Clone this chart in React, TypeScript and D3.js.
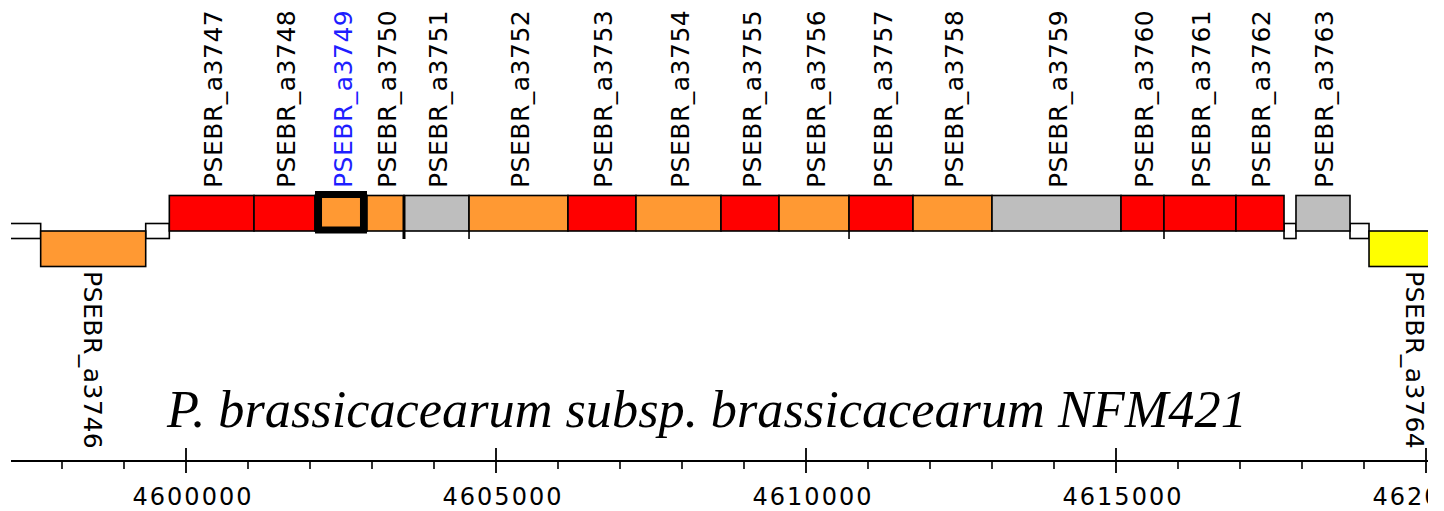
import * as d3 from 'd3';

// genes on the upper (+) strand
const upperNames = ['PSEBR_a3747', 'PSEBR_a3748', 'PSEBR_a3749', 'PSEBR_a3750', 'PSEBR_a3751', 'PSEBR_a3752', 'PSEBR_a3753', 'PSEBR_a3754', 'PSEBR_a3755', 'PSEBR_a3756', 'PSEBR_a3757', 'PSEBR_a3758', 'PSEBR_a3759', 'PSEBR_a3760', 'PSEBR_a3761', 'PSEBR_a3762', 'PSEBR_a3763'];
const upperStarts = [4599731, 4601097, 4602081, 4602919, 4603516, 4604565, 4606161, 4607258, 4608629, 4609565, 4610694, 4611726, 4613000, 4615081, 4615774, 4616935, 4617903];
const upperEnds = [4601097, 4602081, 4602919, 4603516, 4604565, 4606161, 4607258, 4608629, 4609565, 4610694, 4611726, 4613000, 4615081, 4615774, 4616935, 4617710, 4618774];
const upperKinds = ['red', 'red', 'orange', 'orange', 'grey', 'orange', 'red', 'orange', 'red', 'orange', 'red', 'orange', 'grey', 'red', 'red', 'red', 'grey'];

// genes on the lower (-) strand
const lowerNames = ['PSEBR_a3746', 'PSEBR_a3764'];
const lowerStarts = [4597656, 4619081];
const lowerEnds = [4599350, 4620565];
const lowerKinds = ['orange', 'yellow'];

// intergenic regions
const gapStarts = [4596800, 4599350, 4617710, 4618774];
const gapEnds = [4597656, 4599731, 4617903, 4619081];

// small overlap marks under the track
const markPos = [4604565, 4610694, 4615774];
const thickMark = 4603516;

const selectedGene = 'PSEBR_a3749';
const title = 'P. brassicacearum subsp. brassicacearum NFM421';
const majorTicks = [4600000, 4605000, 4610000, 4615000, 4620000];

const colors: Record<string, string> = {
  red: '#ff0000',
  orange: '#ff9933',
  grey: '#bebebe',
  yellow: '#ffff00',
};

export default function App() {
  const width = 1444;
  const height = 511;
  const x = d3.scaleLinear().domain([4600000, 4620000]).range([186, 1426]);
  const minorTicks = d3.range(4597000, 4621000, 1000).filter(t => t % 5000 !== 0);

  const upTop = 195.5, mid = 231, lowBot = 266.5;
  const gapTop = 223.5, gapBot = 238.5;
  const axisY = 461;
  const labelFont = '"DejaVu Sans", sans-serif';

  const upper = upperNames.map((n, i) => ({ name: n, s: upperStarts[i], e: upperEnds[i], kind: upperKinds[i] }));
  const lower = lowerNames.map((n, i) => ({ name: n, s: lowerStarts[i], e: lowerEnds[i], kind: lowerKinds[i] }));

  return (
    <svg width={width} height={height} style={{ position: 'absolute', left: 0, top: 0, background: '#fff' }}>
      <defs>
        <clipPath id="view">
          <rect x={11} y={0} width={1417} height={height} />
        </clipPath>
      </defs>
      <g clipPath="url(#view)">
        {gapStarts.map((s, i) => (
          <rect key={'g' + i} x={x(s)} y={gapTop} width={x(gapEnds[i]) - x(s)} height={gapBot - gapTop}
            fill="#fff" stroke="#000" strokeWidth={1.6} />
        ))}
        {upper.map(g => (
          <rect key={g.name} x={x(g.s)} y={upTop} width={x(g.e) - x(g.s)} height={mid - upTop}
            fill={colors[g.kind]} stroke="#000" strokeWidth={1.6} />
        ))}
        {lower.map(g => (
          <rect key={g.name} x={x(g.s)} y={mid} width={x(g.e) - x(g.s)} height={lowBot - mid}
            fill={colors[g.kind]} stroke="#000" strokeWidth={1.6} />
        ))}
        {markPos.map(p => (
          <line key={'m' + p} x1={x(p)} x2={x(p)} y1={mid} y2={mid + 8} stroke="#000" strokeWidth={1.6} />
        ))}
        <line x1={x(thickMark)} x2={x(thickMark)} y1={upTop} y2={mid + 8} stroke="#000" strokeWidth={3} />
        {upper.filter(g => g.name === selectedGene).map(g => (
          <rect key="sel" x={x(g.s) + 3.5} y={upTop - 1} width={x(g.e) - x(g.s) - 7} height={mid - upTop}
            fill="none" stroke="#000" strokeWidth={7} />
        ))}
        {upper.map(g => {
          const cx = (x(g.s) + x(g.e)) / 2 + 2;
          return (
            <text key={'t' + g.name} transform={`translate(${cx},188) rotate(-90)`} dominantBaseline="central"
              fontFamily={labelFont} fontSize={25} letterSpacing={0.5}
              fill={g.name === selectedGene ? '#1e1eff' : '#000'}>{g.name}</text>
          );
        })}
        {lower.map(g => {
          const cx = (x(g.s) + x(g.e)) / 2 - 1;
          return (
            <text key={'t' + g.name} transform={`translate(${cx},271) rotate(90)`} dominantBaseline="central"
              fontFamily={labelFont} fontSize={25} letterSpacing={0.5} fill="#000">{g.name}</text>
          );
        })}
        <text x={167} y={427} fontFamily='"Liberation Serif", "Times New Roman", serif' fontStyle="italic"
          fontSize={52.3} fill="#000">{title}</text>
        <line x1={10} x2={1430} y1={axisY} y2={axisY} stroke="#000" strokeWidth={2} />
        {minorTicks.map(t => (
          <line key={'mt' + t} x1={x(t)} x2={x(t)} y1={axisY} y2={axisY + 8} stroke="#000" strokeWidth={1.6} />
        ))}
        {majorTicks.map(t => (
          <g key={'Mt' + t}>
            <line x1={x(t)} x2={x(t)} y1={axisY - 13} y2={axisY + 12} stroke="#000" strokeWidth={1.8} />
            <text x={x(t) + 7} y={505} textAnchor="middle" fontFamily={labelFont} fontSize={24}
              letterSpacing={2} fill="#000">{t}</text>
          </g>
        ))}
      </g>
    </svg>
  );
}
